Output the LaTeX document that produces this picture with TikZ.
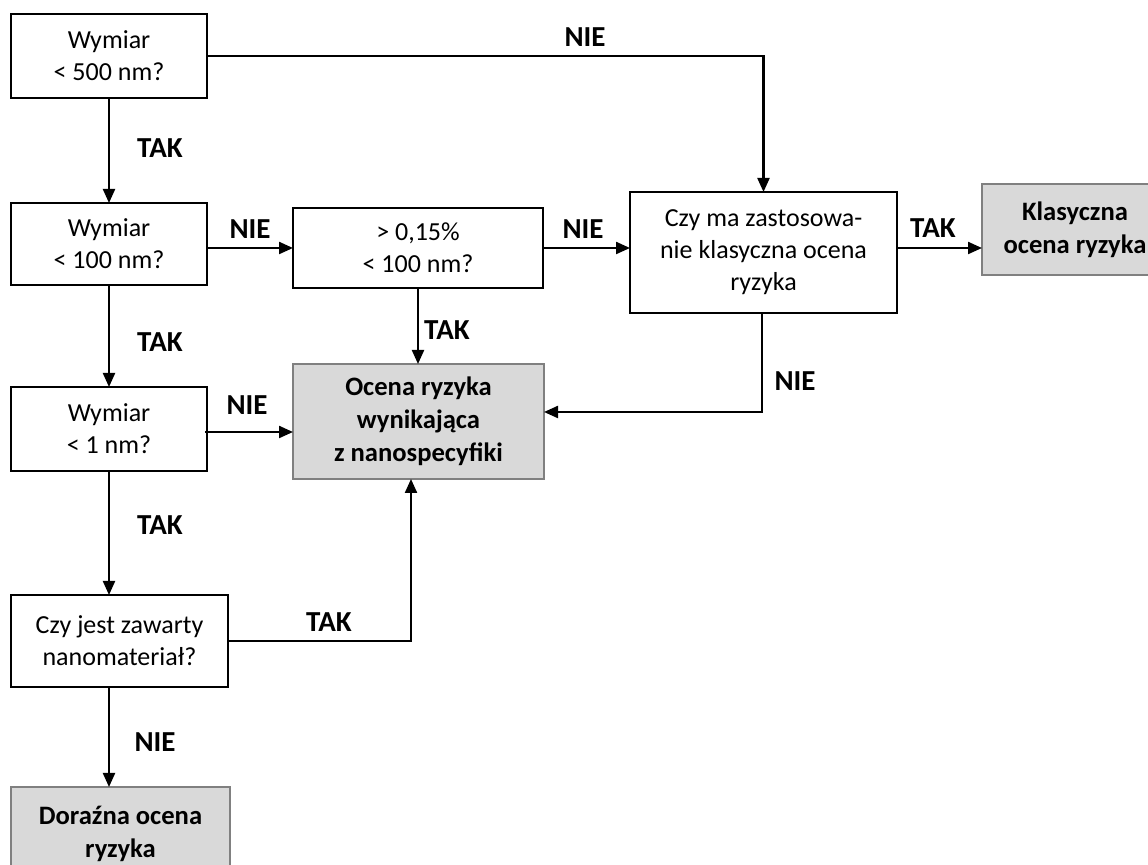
\documentclass[tikz,border=0pt]{standalone}
\usepackage{fontspec}
\setmainfont{Carlito}
\usetikzlibrary{arrows.meta}
\definecolor{boxgray}{HTML}{D9D9D9}
\definecolor{edgegray}{HTML}{808080}
\begin{document}
\begin{tikzpicture}[x=0.5pt,y=-0.5pt,
  font=\fontsize{13}{16}\selectfont,
  box/.style={draw=black, line width=1.1pt, fill=white, align=center, inner sep=0pt, outer sep=0pt},
  gbox/.style={draw=edgegray, line width=1.3pt, fill=boxgray, align=center, inner sep=0pt, outer sep=0pt, font=\fontsize{13.3}{16.5}\selectfont\bfseries},
  arr/.style={line width=1.1pt, -{Triangle[length=7pt,width=6pt]}},
  lbl/.style={font=\fontsize{14.5}{16}\selectfont\bfseries, inner sep=0pt}]
\useasboundingbox (0,0) rectangle (1148,865);
% boxes
\node[box, minimum width=98pt, minimum height=42pt] (b1) at (109,56) {Wymiar\\< 500 nm?};
\node[box, minimum width=98pt, minimum height=41pt] (b2) at (109,244) {Wymiar\\< 100 nm?};
\node[box, minimum width=125pt, minimum height=40pt] (b3) at (418,248) {> 0,15\%\\< 100 nm?};
\node[box, minimum width=133.5pt, minimum height=60.5pt] (czy) at (763.5,252.5) {Czy ma zastosowa-\\nie klasyczna ocena\\ryzyka};
\node[gbox, minimum width=93pt, minimum height=45.5pt] (klas) at (1075,229.5) {Klasyczna\\ocena ryzyka};
\node[gbox, minimum width=125.5pt, minimum height=57.5pt] (ocena) at (418.5,421.5) {Ocena ryzyka\\wynikająca\\z nanospecyfiki};
\node[box, minimum width=98pt, minimum height=42pt] (b4) at (109,429) {Wymiar\\< 1 nm?};
\node[box, minimum width=108.5pt, minimum height=46pt] (b5) at (119.5,641) {Czy jest zawarty\\nanomateriał?};
\node[gbox, minimum width=109.5pt, minimum height=46.5pt] (dor) at (120.5,833.5) {Doraźna ocena\\ryzyka};
% helper coordinates
\coordinate (r1) at (0,248);
\coordinate (j1) at (762,412);
\coordinate (j2) at (411,641);
\coordinate (j3) at (0,432);
% connectors
\draw[arr] (b1.east) -- (b1.east -| czy.north) -- (czy.north);
\draw[arr] (b1.south) -- (b2.north);
\draw[arr] (b2.east |- r1) -- (b3.west |- r1);
\draw[arr] (b3.east |- r1) -- (czy.west |- r1);
\draw[arr] (czy.east |- r1) -- (klas.west |- r1);
\draw[arr] (b3.south) -- (b3.south |- ocena.north);
\draw[arr] (czy.south -| j1) -- (j1) -- (ocena.east |- j1);
\draw[arr] (b2.south) -- (b4.north);
\draw[arr] ([xshift=-1pt]b4.east |- j3) -- (ocena.west |- j3);
\draw[arr] (b4.south) -- (b4.south |- b5.north);
\draw[arr] (b5.east |- j2) -- (j2) -- (j2 |- ocena.south);
\draw[arr] (b5.south -| b4.south) -- (b4.south |- dor.north);
% labels
\node[lbl] (l1) at (585,37) {NIE};
\node[lbl] (l2) at (160,148) {TAK};
\node[lbl] (l3) at (250,229) {NIE};
\node[lbl] (l4) at (583,229) {NIE};
\node[lbl] (l5) at (933,228) {TAK};
\node[lbl] (l6) at (447,330) {TAK};
\node[lbl] (l7) at (795,381) {NIE};
\node[lbl] (l8) at (160,342) {TAK};
\node[lbl] (l9) at (247,405) {NIE};
\node[lbl] (l10) at (160,525) {TAK};
\node[lbl] (l11) at (329,622) {TAK};
\node[lbl] (l12) at (155,742) {NIE};
\end{tikzpicture}
\end{document}
